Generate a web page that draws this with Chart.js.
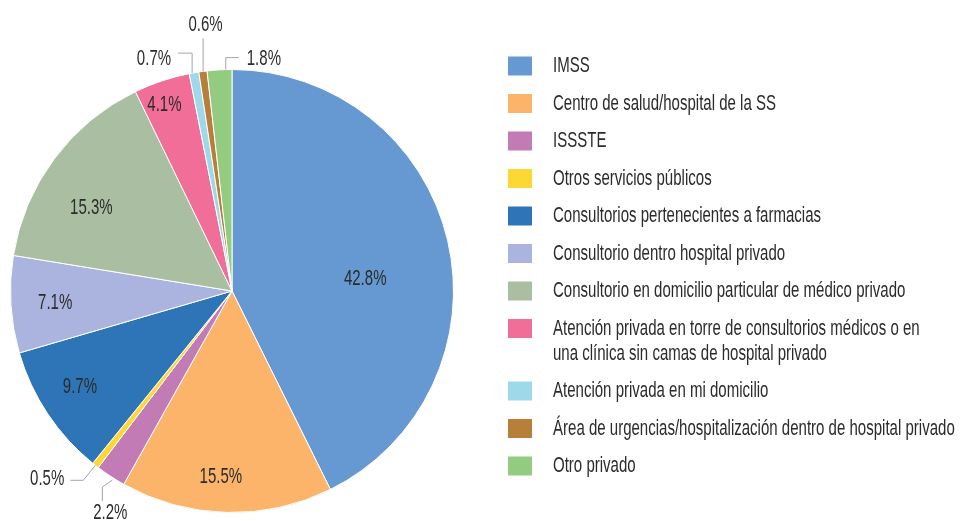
<!DOCTYPE html>
<html>
<head>
<meta charset="utf-8">
<script src="https://cdn.jsdelivr.net/npm/chart.js@4.4.1/dist/chart.umd.min.js"></script>
<style>
  html, body { margin: 0; padding: 0; background: #fff; }
  #wrap { width: 963px; height: 521px; }
</style>
</head>
<body>
<div id="wrap"><canvas id="pieChart" width="963" height="521"></canvas></div>
<script>
const categories = [
  'IMSS',
  'Centro de salud/hospital de la SS',
  'ISSSTE',
  'Otros servicios públicos',
  'Consultorios pertenecientes a farmacias',
  'Consultorio dentro hospital privado',
  'Consultorio en domicilio particular de médico privado',
  ['Atención privada en torre de consultorios médicos o en', 'una clínica sin camas de hospital privado'],
  'Atención privada en mi domicilio',
  'Área de urgencias/hospitalización dentro de hospital privado',
  'Otro privado'
];
const values = [42.8, 15.5, 2.2, 0.5, 9.7, 7.1, 15.3, 4.1, 0.7, 0.6, 1.8];
const colors = [
  '#6699d2', '#fbb46a', '#c27bb5', '#fdd835', '#2e75b8', '#aab4de',
  '#aabea2', '#f06e98', '#9dd9e8', '#b87f3a', '#93cc80'
];

// label placement: inside -> position along slice (f) and radius (r)
// outside -> leader line start (f, r) then segments, then text offset
const labelPos = [
  { f: 0.551, r: 0.604 },
  { f: 0.536, r: 0.84 },
  { f: 0.39, r: 1.01, path: [[-10, 7], [0, 14]], text: [8, 12], align: 'center' },
  { f: 0.53, r: 1.0, path: [[-12, 15], [-13, 0]], text: [-6, -1], align: 'right' },
  { f: 0.54, r: 0.812 },
  { f: 0.49, r: 0.80 },
  { f: 0.387, r: 0.737 },
  { f: 0.40, r: 0.894 },
  { f: 0.3, r: 1.0, path: [[0, -20], [-14, 0]], text: [-7, 5.5], align: 'right' },
  { f: 0.52, r: 1.0, path: [[0, -33]], text: [2.5, -13], align: 'center' },
  { f: 0.75, r: 1.0, path: [[0, -12], [13, 0]], text: [8, 1.5], align: 'left' }
];

const FONT = '22px "Liberation Sans", Arial, sans-serif';
const TEXT_COLOR = '#2b2b2b';

// condensed look: squeeze text horizontally so widths match the original
function squeeze(ctx) {
  return 223 / ctx.measureText('Centro de salud/hospital de la SS').width;
}

function drawText(ctx, txt, x, y, align, sx) {
  const w = ctx.measureText(txt).width * sx;
  let left = x;
  if (align === 'center') left = x - w / 2;
  if (align === 'right') left = x - w;
  ctx.save();
  ctx.textAlign = 'left';
  ctx.translate(left, y);
  ctx.scale(sx, 1);
  ctx.fillText(txt, 0, 0);
  ctx.restore();
}

const sliceLabels = {
  id: 'sliceLabels',
  afterDatasetsDraw(chart) {
    const ctx = chart.ctx;
    const arcs = chart.getDatasetMeta(0).data;
    ctx.save();
    ctx.font = FONT;
    ctx.fillStyle = TEXT_COLOR;
    ctx.textBaseline = 'middle';
    const sx = squeeze(ctx);
    arcs.forEach((arc, i) => {
      const p = arc.getProps(['x', 'y', 'startAngle', 'endAngle', 'outerRadius'], true);
      const lp = labelPos[i];
      const a = p.startAngle + lp.f * (p.endAngle - p.startAngle);
      let x = p.x + Math.cos(a) * p.outerRadius * lp.r;
      let y = p.y + Math.sin(a) * p.outerRadius * lp.r;
      const txt = values[i].toFixed(1) + '%';
      if (lp.path) {
        ctx.strokeStyle = '#a6a6a6';
        ctx.lineWidth = 1;
        ctx.beginPath();
        ctx.moveTo(x, y);
        lp.path.forEach(s => { x += s[0]; y += s[1]; ctx.lineTo(x, y); });
        ctx.stroke();
        drawText(ctx, txt, x + lp.text[0], y + lp.text[1], lp.align, sx);
      } else {
        drawText(ctx, txt, x, y, 'center', sx);
      }
    });
    ctx.restore();
  }
};

const sideLegend = {
  id: 'sideLegend',
  afterDraw(chart) {
    const ctx = chart.ctx;
    const meta = chart.getDatasetMeta(0);
    ctx.save();
    ctx.font = FONT;
    ctx.textBaseline = 'middle';
    const sx = squeeze(ctx);
    let y = 66;
    chart.data.labels.forEach((lab, i) => {
      const lines = Array.isArray(lab) ? lab : [lab];
      ctx.fillStyle = meta.data[i].options.backgroundColor;
      ctx.fillRect(508, y - 9.5, 24, 19);
      ctx.fillStyle = TEXT_COLOR;
      lines.forEach((ln, k) => drawText(ctx, ln, 553, y + k * 25, 'left', sx));
      y += 37.5 + (lines.length - 1) * 25;
    });
    ctx.restore();
  }
};

const chart = new Chart(document.getElementById('pieChart').getContext('2d'), {
  type: 'pie',
  data: {
    labels: categories,
    datasets: [{
      data: values,
      backgroundColor: colors,
      borderColor: '#ffffff',
      borderWidth: 1
    }]
  },
  options: {
    responsive: false,
    animation: false,
    layout: { padding: { left: 10, right: 509, top: 69, bottom: 8 } },
    plugins: {
      legend: { display: false },
      tooltip: { enabled: false }
    }
  },
  plugins: [sliceLabels, sideLegend]
});
</script>
</body>
</html>
